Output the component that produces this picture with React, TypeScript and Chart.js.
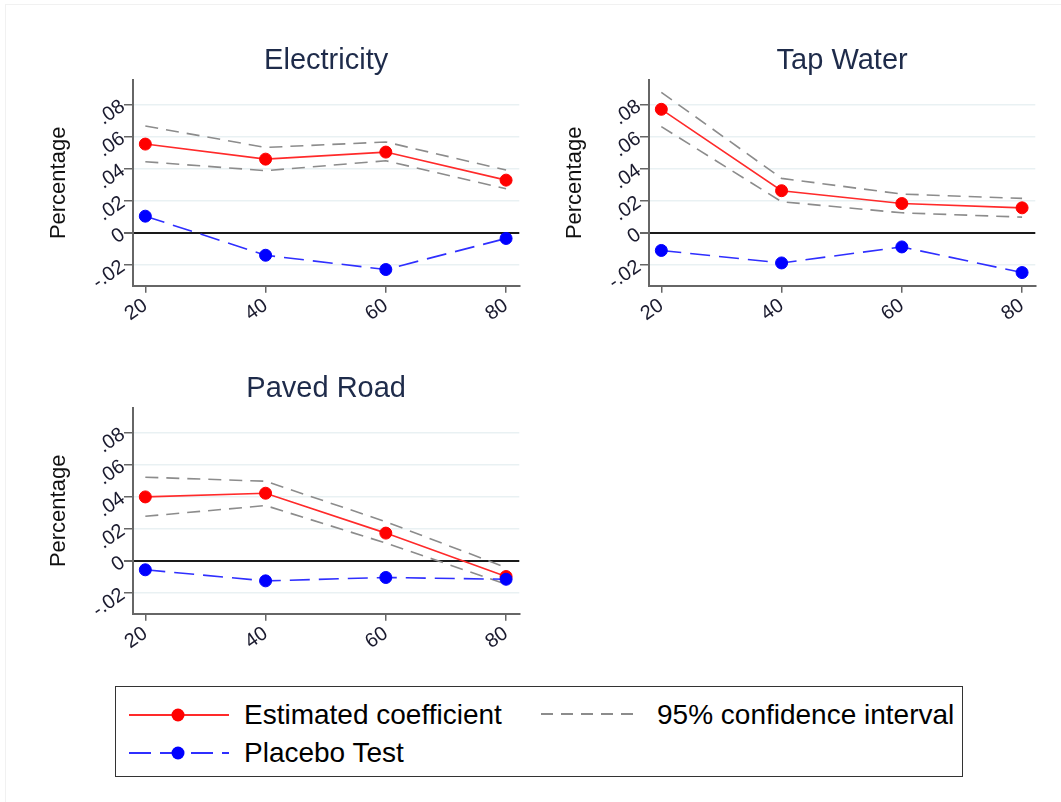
import React, { useEffect, useRef } from "react";
import { Chart, registerables } from "chart.js";

Chart.register(...registerables);

const xValues = [20, 40, 60, 80];
const yTickValues = [-0.02, 0, 0.02, 0.04, 0.06, 0.08];
const yTickLabels: Record<string, string> = {
  "-0.02": "-.02",
  "0": "0",
  "0.02": ".02",
  "0.04": ".04",
  "0.06": ".06",
  "0.08": ".08",
};

const elecEst = [0.0554, 0.046, 0.0504, 0.0329];
const elecUpper = [0.0667, 0.0533, 0.0567, 0.0392];
const elecLower = [0.0444, 0.0388, 0.045, 0.0275];
const elecPlacebo = [0.0104, -0.014, -0.0229, -0.0035];

const tapEst = [0.0771, 0.0263, 0.0183, 0.0156];
const tapUpper = [0.0877, 0.034, 0.0242, 0.0215];
const tapLower = [0.0663, 0.0194, 0.0125, 0.0098];
const tapPlacebo = [-0.011, -0.0188, -0.0088, -0.0248];

const roadEst = [0.0399, 0.0422, 0.0173, -0.0098];
const roadUpper = [0.0522, 0.0497, 0.0244, -0.0042];
const roadLower = [0.0278, 0.0345, 0.0111, -0.0146];
const roadPlacebo = [-0.0056, -0.0125, -0.0104, -0.0115];

const FONT = "'Liberation Sans', Arial, sans-serif";
const RED = "#ff0000";
const BLUE = "#0000ff";
const GRAY = "#8c8c8c";

const toPts = (vals: number[]) => xValues.map((x, i) => ({ x, y: vals[i] }));

type PanelProps = {
  left: number;
  top: number;
  title: string;
  est: number[];
  upper: number[];
  lower: number[];
  placebo: number[];
};

const CW = 500;
const CH = 310;
const AREA_LEFT = 100;
const AREA_TOP = 50;
const AREA_W = 386.3;
const AREA_H = 205.7;

function Panel({ left, top, title, est, upper, lower, placebo }: PanelProps) {
  const ref = useRef<HTMLCanvasElement>(null);
  useEffect(() => {
    if (!ref.current) return;
    const titlePlugin = {
      id: "panelTitle",
      afterDraw(chart: any) {
        const { ctx, chartArea } = chart;
        ctx.save();
        ctx.font = `29px ${FONT}`;
        ctx.fillStyle = "#1e2b4a";
        ctx.textAlign = "center";
        ctx.textBaseline = "middle";
        ctx.fillText(title, (chartArea.left + chartArea.right) / 2, chartArea.top - 19.5);
        ctx.restore();
      },
    };
    const chart = new Chart(ref.current, {
      type: "line",
      data: {
        datasets: [
          {
            label: "Placebo Test",
            data: toPts(placebo),
            borderColor: "#2f2fff",
            borderWidth: 1.6,
            borderDash: [20, 9],
            pointRadius: 6,
            pointBackgroundColor: BLUE,
            pointBorderColor: BLUE,
            pointBorderWidth: 1,
          },
          {
            label: "Estimated coefficient",
            data: toPts(est),
            borderColor: "#ff2a2a",
            borderWidth: 1.6,
            pointRadius: 6,
            pointBackgroundColor: RED,
            pointBorderColor: RED,
            pointBorderWidth: 1,
          },
          {
            label: "95% upper",
            data: toPts(upper),
            borderColor: GRAY,
            borderWidth: 1.6,
            borderDash: [13, 8],
            pointRadius: 0,
          },
          {
            label: "95% lower",
            data: toPts(lower),
            borderColor: GRAY,
            borderWidth: 1.6,
            borderDash: [13, 8],
            pointRadius: 0,
          },
        ],
      },
      options: {
        animation: false,
        responsive: false,
        events: [],
        layout: { padding: { top: AREA_TOP, right: CW - AREA_LEFT - AREA_W, left: 0, bottom: 0 } },
        plugins: { legend: { display: false }, tooltip: { enabled: false }, title: { display: false } },
        scales: {
          x: {
            type: "linear",
            min: 17.95,
            max: 82.2,
            afterBuildTicks: (s: any) => {
              s.ticks = xValues.map((v) => ({ value: v }));
            },
            afterFit: (s: any) => {
              s.height = CH - AREA_TOP - AREA_H;
            },
            border: { display: true, color: "#666", width: 2 },
            grid: { drawOnChartArea: false, drawTicks: true, tickLength: 7, tickColor: "#666", lineWidth: 1.5 },
            ticks: {
              minRotation: 35,
              maxRotation: 35,
              padding: 1,
              color: "#1a1a2e",
              font: { family: FONT, size: 20 },
              callback: (v: any) => String(v),
            },
          },
          y: {
            min: -0.033,
            max: 0.0954,
            afterBuildTicks: (s: any) => {
              s.ticks = yTickValues.map((v) => ({ value: v }));
            },
            afterFit: (s: any) => {
              s.width = AREA_LEFT;
            },
            border: { display: true, color: "#666", width: 2 },
            grid: {
              drawTicks: true,
              tickLength: 9,
              tickColor: "#666",
              color: (c: any) => (c.tick && Math.abs(c.tick.value) < 1e-9 ? "#1a1a1a" : "#e9f1f3"),
              lineWidth: (c: any) => (c.tick && Math.abs(c.tick.value) < 1e-9 ? 2 : 1.5),
            },
            title: {
              display: true,
              text: "Percentage",
              color: "#111",
              font: { family: FONT, size: 22 },
              padding: { top: 13, bottom: 0 },
            },
            ticks: {
              minRotation: 35,
              maxRotation: 35,
              padding: 1,
              color: "#1a1a2e",
              font: { family: FONT, size: 20 },
              callback: (v: any) => {
                const key = String(Math.round(Number(v) * 100) / 100);
                return yTickLabels[key] ?? String(v);
              },
            },
          },
        },
      },
      plugins: [titlePlugin],
    });
    return () => chart.destroy();
  }, []);
  return (
    <canvas
      ref={ref}
      width={CW}
      height={CH}
      style={{ position: "absolute", left: left - AREA_LEFT, top: top - AREA_TOP, width: CW, height: CH }}
    />
  );
}

function LegendLine({ color, dash, marker }: { color: string; dash?: string; marker?: string }) {
  return (
    <svg width={102} height={20} style={{ position: "absolute", left: 0, top: -10 }}>
      <line x1={1} y1={10} x2={101} y2={10} stroke={color} strokeWidth={2} strokeDasharray={dash} />
      {marker ? <circle cx={50} cy={10} r={6.5} fill={marker} /> : null}
    </svg>
  );
}

export default function App() {
  const textStyle: React.CSSProperties = {
    position: "absolute",
    fontFamily: FONT,
    fontSize: 28,
    color: "#000",
    lineHeight: "28px",
    whiteSpace: "nowrap",
  };
  return (
    <div style={{ position: "absolute", left: 0, top: 0, width: 1061, height: 802, background: "#fff" }}>
      <div
        style={{
          position: "absolute",
          left: 5,
          top: 4,
          width: 1070,
          height: 820,
          borderLeft: "1px solid #f1f1f1",
          borderTop: "1px solid #f1f1f1",
        }}
      />
      <Panel left={132.7} top={80} title="Electricity" est={elecEst} upper={elecUpper} lower={elecLower} placebo={elecPlacebo} />
      <Panel left={649} top={80} title="Tap Water" est={tapEst} upper={tapUpper} lower={tapLower} placebo={tapPlacebo} />
      <Panel left={132.7} top={407.7} title="Paved Road" est={roadEst} upper={roadUpper} lower={roadLower} placebo={roadPlacebo} />
      <div
        style={{
          position: "absolute",
          left: 115,
          top: 686,
          width: 846,
          height: 89,
          border: "1.5px solid #333",
          background: "#fff",
        }}
      >
        <div style={{ position: "absolute", left: 12, top: 28 }}>
          <LegendLine color="#ff2a2a" marker={RED} />
        </div>
        <div style={{ ...textStyle, left: 128, top: 14 }}>Estimated coefficient</div>
        <div style={{ position: "absolute", left: 424, top: 27 }}>
          <LegendLine color={GRAY} dash="12 8" />
        </div>
        <div style={{ ...textStyle, left: 541, top: 14 }}>95% confidence interval</div>
        <div style={{ position: "absolute", left: 12, top: 66 }}>
          <LegendLine color="#2f2fff" dash="22 9" marker={BLUE} />
        </div>
        <div style={{ ...textStyle, left: 128, top: 52 }}>Placebo Test</div>
      </div>
    </div>
  );
}
